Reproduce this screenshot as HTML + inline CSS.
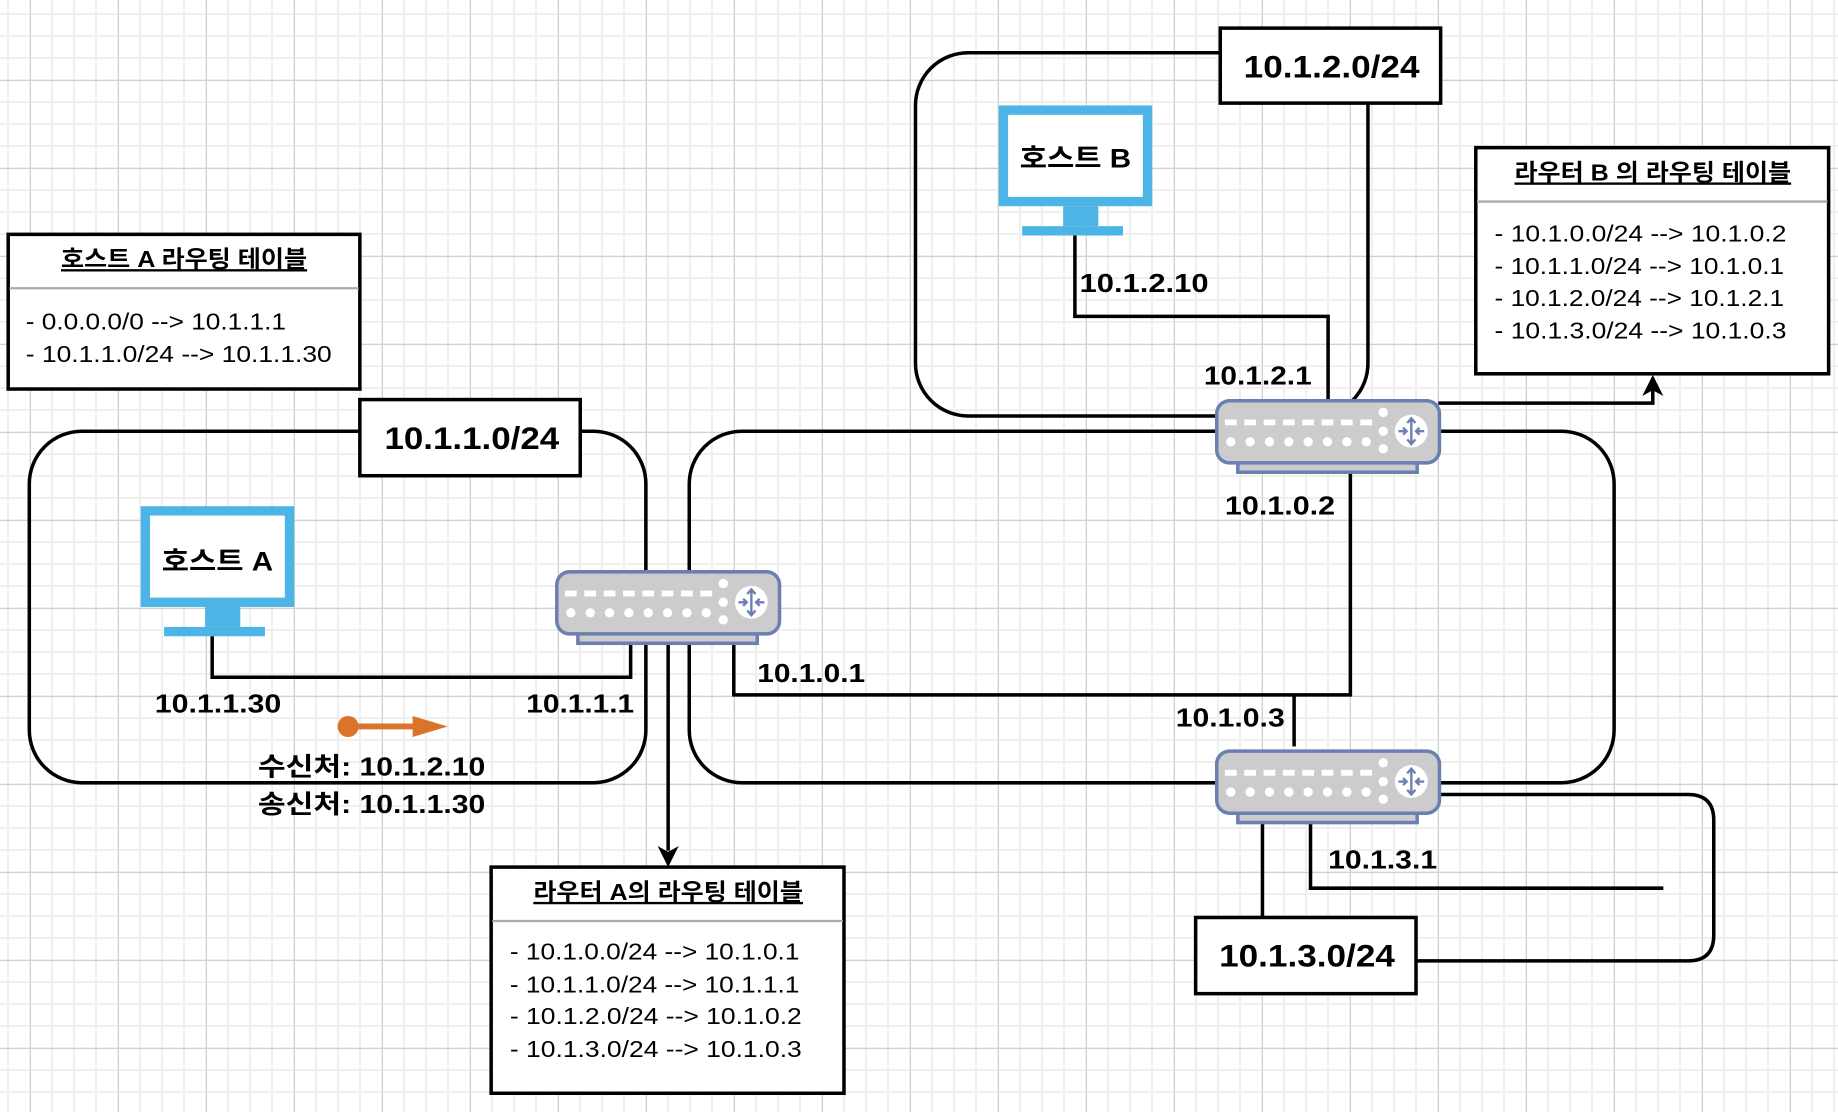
<!DOCTYPE html>
<html><head><meta charset="utf-8"><style>
html,body{margin:0;padding:0;}
body{width:1838px;height:1112px;overflow:hidden;background:#fff;position:relative;
background-image:
linear-gradient(to right,#d0d0d0 1px,transparent 1px),
linear-gradient(to bottom,#d0d0d0 1px,transparent 1px),
linear-gradient(to right,#efefef 2px,transparent 2px),
linear-gradient(to bottom,#efefef 2px,transparent 2px);
background-size:88px 88px,88px 88px,22px 22px,22px 22px;
background-position:30px 0,0 80px,7px 0,0 13px;}
svg{position:absolute;left:0;top:0;}
text{font-family:"Liberation Sans","Noto Sans CJK KR",sans-serif;fill:#000;}
.b{font-weight:bold;}
</style></head><body>
<svg width="1838" height="1112" viewBox="0 0 1568 949" preserveAspectRatio="none">
<defs>
<g id="router">
<rect x="18" y="50" width="153" height="11" fill="#ccc" stroke="#6b7fb0" stroke-width="3"/>
<rect x="0" y="0" width="190" height="53" rx="11" fill="#ccc" stroke="#6b7fb0" stroke-width="3"/>
<g fill="#fff">
<rect x="7" y="16" width="10" height="5"/><rect x="23.5" y="16" width="10" height="5"/><rect x="40" y="16" width="10" height="5"/><rect x="56.5" y="16" width="10" height="5"/><rect x="73" y="16" width="10" height="5"/><rect x="89.5" y="16" width="10" height="5"/><rect x="106" y="16" width="10" height="5"/><rect x="122.5" y="16" width="10" height="5"/>
<circle cx="12" cy="35" r="4"/><circle cx="28.5" cy="35" r="4"/><circle cx="45" cy="35" r="4"/><circle cx="61.5" cy="35" r="4"/><circle cx="78" cy="35" r="4"/><circle cx="94.5" cy="35" r="4"/><circle cx="111" cy="35" r="4"/><circle cx="127.5" cy="35" r="4"/>
<circle cx="142" cy="10" r="4"/><circle cx="142" cy="26" r="4"/><circle cx="142" cy="41" r="4"/>
<circle cx="166" cy="26" r="14"/>
</g>
<g stroke="#6b7fb0" stroke-width="2" fill="none">
<path d="M166 15 V37 M162.5 19 L166 15 L169.5 19 M162.5 33 L166 37 L169.5 33 M155 26 H162 M159 23 L162 26 L159 29 M177 26 H170 M173 23 L170 26 L173 29"/>
</g>
</g>
<g id="monitor">
<rect x="0" y="0" width="131" height="86" fill="#4cb5e6"/>
<rect x="8" y="8" width="115" height="70" fill="#fff"/>
<rect x="55" y="86" width="30" height="17" fill="#4cb5e6"/>
<rect x="20" y="103" width="86" height="8" fill="#4cb5e6"/>
</g>
</defs>

<g fill="none" stroke="#000" stroke-width="3">
<rect x="25" y="368" width="526" height="300" rx="45"/>
<rect x="588" y="368" width="789" height="300" rx="45"/>
<rect x="781" y="45" width="386" height="310" rx="45"/>
<polyline points="181,543 181,578 538,578 538,548"/>
<polyline points="626,548 626,593 1152,593 1152,402"/>
<line x1="1104" y1="593" x2="1104" y2="637"/>
<polyline points="917,200 917,270 1133,270 1133,342"/>
<line x1="570" y1="548" x2="570" y2="726"/>
<polyline points="1227,344 1410,344 1410,332"/>
<line x1="1077" y1="700" x2="1077" y2="783"/>
<polyline points="1118,700 1118,758 1419,758"/>
<path d="M1227,678 H1440 Q1462,678 1462,700 V798 Q1462,820 1440,820 H1208"/>
</g>
<path d="M570,740 L561,722 L570,727 L579,722 Z" fill="#000"/>
<path d="M1410,320 L1401,338 L1410,333 L1419,338 Z" fill="#000"/>

<g fill="#fff" stroke="#000" stroke-width="3">
<rect x="307" y="341" width="188" height="65"/>
<rect x="1041" y="24" width="188" height="64"/>
<rect x="1020" y="783" width="188" height="65"/>
<rect x="7" y="200" width="300" height="132"/>
<rect x="1259" y="126" width="301" height="193"/>
<rect x="419" y="740" width="301" height="193"/>
</g>
<g stroke="#aaa" stroke-width="2">
<line x1="8" y1="246" x2="306" y2="246"/>
<line x1="1260" y1="172" x2="1559" y2="172"/>
<line x1="420" y1="786" x2="719" y2="786"/>
</g>
<g lengthAdjust="spacingAndGlyphs">
<text class="b" x="328" y="383" font-size="27" textLength="149" lengthAdjust="spacingAndGlyphs">10.1.1.0/24</text>
<text class="b" x="1061" y="66" font-size="27" textLength="150" lengthAdjust="spacingAndGlyphs">10.1.2.0/24</text>
<text class="b" x="1040" y="825" font-size="27" textLength="150" lengthAdjust="spacingAndGlyphs">10.1.3.0/24</text>

<text class="b" x="52" y="228" font-size="20" textLength="210" lengthAdjust="spacingAndGlyphs" text-decoration="underline">호스트 A 라우팅 테이블</text>
<text class="b" x="1292" y="154" font-size="20" textLength="236" lengthAdjust="spacingAndGlyphs" text-decoration="underline">라우터 B 의 라우팅 테이블</text>
<text class="b" x="455" y="768" font-size="20" textLength="230" lengthAdjust="spacingAndGlyphs" text-decoration="underline">라우터 A의 라우팅 테이블</text>

<text x="22" y="281" font-size="20" textLength="222" lengthAdjust="spacingAndGlyphs">- 0.0.0.0/0 --&gt; 10.1.1.1</text>
<text x="22" y="309" font-size="20" textLength="261" lengthAdjust="spacingAndGlyphs">- 10.1.1.0/24 --&gt; 10.1.1.30</text>
<text x="1275" y="206" font-size="20" textLength="249" lengthAdjust="spacingAndGlyphs">- 10.1.0.0/24 --&gt; 10.1.0.2</text>
<text x="1275" y="234" font-size="20" textLength="247" lengthAdjust="spacingAndGlyphs">- 10.1.1.0/24 --&gt; 10.1.0.1</text>
<text x="1275" y="261" font-size="20" textLength="247" lengthAdjust="spacingAndGlyphs">- 10.1.2.0/24 --&gt; 10.1.2.1</text>
<text x="1275" y="289" font-size="20" textLength="249" lengthAdjust="spacingAndGlyphs">- 10.1.3.0/24 --&gt; 10.1.0.3</text>
<text x="435" y="819" font-size="20" textLength="247" lengthAdjust="spacingAndGlyphs">- 10.1.0.0/24 --&gt; 10.1.0.1</text>
<text x="435" y="847" font-size="20" textLength="247" lengthAdjust="spacingAndGlyphs">- 10.1.1.0/24 --&gt; 10.1.1.1</text>
<text x="435" y="874" font-size="20" textLength="249" lengthAdjust="spacingAndGlyphs">- 10.1.2.0/24 --&gt; 10.1.0.2</text>
<text x="435" y="902" font-size="20" textLength="249" lengthAdjust="spacingAndGlyphs">- 10.1.3.0/24 --&gt; 10.1.0.3</text>
</g>

<use href="#monitor" x="120" y="432"/>
<use href="#monitor" x="852" y="90"/>
<text class="b" x="138" y="487" font-size="23" textLength="95" lengthAdjust="spacingAndGlyphs">호스트 A</text>
<text class="b" x="870" y="143" font-size="23" textLength="95" lengthAdjust="spacingAndGlyphs">호스트 B</text>

<use href="#router" x="475" y="488"/>
<use href="#router" x="1038" y="342"/>
<use href="#router" x="1038" y="641"/>

<g font-size="22">
<text class="b" x="132" y="608" textLength="108" lengthAdjust="spacingAndGlyphs">10.1.1.30</text>
<text class="b" x="449" y="608" textLength="92" lengthAdjust="spacingAndGlyphs">10.1.1.1</text>
<text class="b" x="646" y="582" textLength="92" lengthAdjust="spacingAndGlyphs">10.1.0.1</text>
<text class="b" x="1003" y="620" textLength="93" lengthAdjust="spacingAndGlyphs">10.1.0.3</text>
<text class="b" x="1045" y="439" textLength="94" lengthAdjust="spacingAndGlyphs">10.1.0.2</text>
<text class="b" x="921" y="249" textLength="110" lengthAdjust="spacingAndGlyphs">10.1.2.10</text>
<text class="b" x="1027" y="328" textLength="92" lengthAdjust="spacingAndGlyphs">10.1.2.1</text>
<text class="b" x="1133" y="741" textLength="93" lengthAdjust="spacingAndGlyphs">10.1.3.1</text>
<text class="b" x="220" y="662" textLength="194" lengthAdjust="spacingAndGlyphs">수신처: 10.1.2.10</text>
<text class="b" x="220" y="694" textLength="194" lengthAdjust="spacingAndGlyphs">송신처: 10.1.1.30</text>
</g>
<line x1="297" y1="620" x2="360" y2="620" stroke="#d9742a" stroke-width="5"/>
<circle cx="297" cy="620" r="9" fill="#d9742a"/>
<path d="M352,611 L382,620 L352,629 Z" fill="#d9742a"/>
</svg>
</body></html>
